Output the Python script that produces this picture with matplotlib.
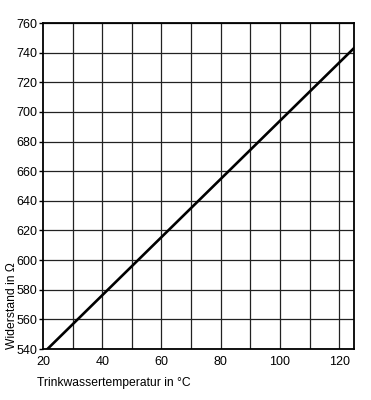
import numpy as np
import matplotlib.pyplot as plt

plt.rcParams['font.family'] = ['Liberation Sans', 'DejaVu Sans']

temp = [21.5, 125]
widerstand = [540, 743]
xticks = [20, 40, 60, 80, 100, 120]
yticks = [540, 560, 580, 600, 620, 640, 660, 680, 700, 720, 740, 760]
xgrid = [30, 40, 50, 60, 70, 80, 90, 100, 110, 120]

fig = plt.figure(figsize=(3.71, 4.0), dpi=100)
ax = fig.add_axes([0.116, 0.1275, 0.838, 0.815])

for xv in xgrid:
    ax.axvline(xv, color='#222222', lw=0.9, zorder=1)
for yv in yticks:
    ax.axhline(yv, color='#222222', lw=0.9, zorder=1)

ax.plot(temp, widerstand, color='black', lw=1.9, zorder=3)

ax.set_xlim(20, 125)
ax.set_ylim(540, 760)
ax.set_xticks(xticks)
ax.set_yticks(yticks)
ax.tick_params(axis='x', length=0, labelsize=9, pad=5)
ax.tick_params(axis='y', length=3, width=1, labelsize=9, pad=1)
for s in ax.spines.values():
    s.set_linewidth(1.3)

fig.text(0.033, 0.1275, 'Widerstand in \u03a9', rotation=90, va='bottom', ha='center', fontsize=8.7)
fig.text(0.1, 0.042, 'Trinkwassertemperatur in \u00b0C', ha='left', va='center', fontsize=8.7)

fig.savefig('out.png', dpi=100, facecolor='white')
